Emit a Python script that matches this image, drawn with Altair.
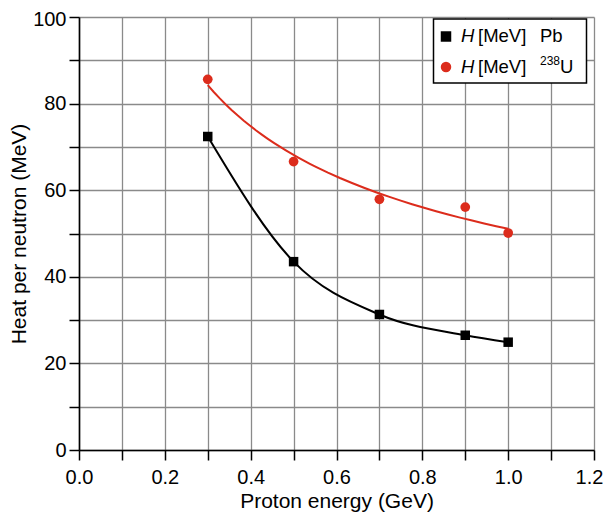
import altair as alt
import pandas as pd

# ---- data ----
energy = [0.3, 0.5, 0.7, 0.9, 1.0]            # proton energy (GeV)
heat_pb = [72.4, 43.5, 31.3, 26.5, 24.9]      # H[MeV] Pb
heat_u = [85.6, 66.6, 57.9, 56.1, 50.1]       # H[MeV] 238U

x_ticks = [0.0, 0.1, 0.2, 0.3, 0.4, 0.5, 0.6, 0.7, 0.8, 0.9, 1.0, 1.1, 1.2]
y_ticks = [0, 10, 20, 30, 40, 50, 60, 70, 80, 90, 100]

FONT = "Liberation Sans"
RED = "#dc2c1c"

pb_df = pd.DataFrame({"E": energy, "H": heat_pb})
u_df = pd.DataFrame({"E": energy, "H": heat_u})

xscale = alt.Scale(domain=[0, 1.2], nice=False, zero=False)
yscale = alt.Scale(domain=[0, 100], nice=False)

xaxis = alt.Axis(
    values=x_ticks,
    labelExpr="round(datum.value*10) % 2 == 0 ? format(datum.value, '.1f') : ''",
    labelFlush=False,
    labelOffset={"condition": {"test": "datum.value > 1.15", "value": -5}, "value": 0},
    title="Proton energy (GeV)",
)
yaxis = alt.Axis(
    values=y_ticks,
    labelExpr="datum.value % 20 == 0 ? datum.label : ''",
    labelFlush=False,
    labelOffset={"condition": {"test": "datum.value > 95", "value": 2}, "value": 0},
    title="Heat per neutron (MeV)",
)

X = alt.X("E:Q", scale=xscale, axis=xaxis)
Y = alt.Y("H:Q", scale=yscale, axis=yaxis)

pb_line = alt.Chart(pb_df).mark_line(color="black", strokeWidth=2, interpolate="monotone").encode(x=X, y=Y)
pb_pts = alt.Chart(pb_df).mark_point(shape="square", filled=True, color="black", size=90, opacity=1).encode(x=X, y=Y)

u_fit = (
    alt.Chart(u_df)
    .transform_regression("E", "H", method="pow", extent=[0.3, 1.0])
    .mark_line(color=RED, strokeWidth=2)
    .encode(x=X, y=Y)
)
u_pts = alt.Chart(u_df).mark_point(shape="circle", filled=True, color=RED, size=95, opacity=1).encode(x=X, y=Y)

# ---- custom legend (rich text: italic H, superscript 238) ----
one = pd.DataFrame({"k": [0]})
box = alt.Chart(one).mark_rect(fill="white", stroke="black", strokeWidth=1.5).encode(
    x=alt.value(354.5), x2=alt.value(507.5), y=alt.value(2), y2=alt.value(66)
)
sq = alt.Chart(one).mark_point(shape="square", filled=True, color="black", size=110, opacity=1).encode(
    x=alt.value(367), y=alt.value(19.5)
)
dot = alt.Chart(one).mark_point(shape="circle", filled=True, color=RED, size=110, opacity=1).encode(
    x=alt.value(367), y=alt.value(50)
)

def txt(s, x, y, size=18.5, style="normal"):
    return alt.Chart(one).mark_text(
        text=s, align="left", baseline="middle", font=FONT, fontSize=size,
        fontStyle=style, color="black"
    ).encode(x=alt.value(x), y=alt.value(y))

legend = [
    box, sq, dot,
    txt("H", 382, 18.5, style="italic"),
    txt("[MeV]", 399, 18.5),
    txt("Pb", 461, 18.5),
    txt("H", 382, 49.5, style="italic"),
    txt("[MeV]", 399, 49.5),
    txt("238", 461, 44, size=12),
    txt("U", 481, 49.5),
]

chart = (
    alt.layer(u_fit, pb_line, pb_pts, u_pts, *legend)
    .properties(
        width=515,
        height=433,
        autosize=alt.AutoSizeParams(type="none"),
        padding={"left": 71, "top": 9, "right": 9, "bottom": 64},
        background="white",
    )
    .configure_view(strokeWidth=0)
    .configure_axis(
        grid=True,
        gridColor="#8a8a8a",
        gridWidth=1.3,
        domainColor="black",
        domainWidth=1.6,
        tickColor="black",
        tickWidth=1.5,
        tickSize=10,
        labelFont=FONT,
        labelFontSize=20,
        labelColor="black",
        titleFont=FONT,
        titleFontSize=21,
        titleFontWeight="normal",
        titleColor="black",
    )
    .configure_axisX(labelPadding=7, titlePadding=3)
    .configure_axisY(labelPadding=3, titlePadding=3)
)

chart.save("out.html", embed_options={"renderer": "svg", "actions": False})
